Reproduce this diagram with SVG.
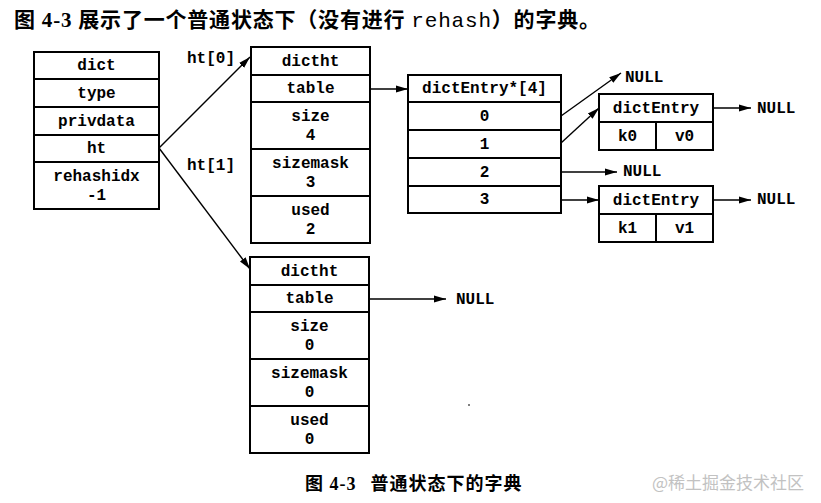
<svg xmlns="http://www.w3.org/2000/svg" width="821" height="503" viewBox="0 0 821 503">
<defs>
<marker id="ah" viewBox="0 0 12 10" refX="12" refY="5" markerWidth="12" markerHeight="10" markerUnits="userSpaceOnUse" orient="auto">
<path d="M0,1.5 L12,5 L0,8.5 Z" fill="#000"/>
</marker>
</defs>
<style>
.box{fill:#fff;stroke:#000;stroke-width:2}
.t{font-family:"Liberation Mono","Courier New",monospace;font-weight:bold;font-size:16px;text-anchor:middle;fill:#000}
.tl{font-family:"Liberation Mono","Courier New",monospace;font-weight:bold;font-size:16px;fill:#000}
.c{stroke:#000;stroke-width:1.4;fill:none;marker-end:url(#ah)}
.cap{font-family:"Liberation Serif","Noto Sans CJK SC",serif;font-weight:bold;fill:#000}
</style>
<rect width="821" height="503" fill="#fff"/>
<text class="cap" x="14" y="27" font-size="21" textLength="586" lengthAdjust="spacing">图 4-3 展示了一个普通状态下（没有进行 <tspan font-family="Liberation Mono, monospace" font-weight="normal">rehash</tspan>）的字典。</text>

<g id="dict">
<rect class="box" x="34" y="52" width="125" height="157"/>
<line class="box" x1="34" y1="79" x2="159" y2="79"/>
<line class="box" x1="34" y1="107" x2="159" y2="107"/>
<line class="box" x1="34" y1="135" x2="159" y2="135"/>
<line class="box" x1="34" y1="162" x2="159" y2="162"/>
<text class="t" x="96.5" y="70">dict</text>
<text class="t" x="96.5" y="98">type</text>
<text class="t" x="96.5" y="126">privdata</text>
<text class="t" x="96.5" y="153">ht</text>
<text class="t" x="96.5" y="181">rehashidx</text>
<text class="t" x="96.5" y="200">-1</text>
</g>

<g id="dictht0">
<rect class="box" x="251" y="47" width="119" height="196"/>
<line class="box" x1="251" y1="75" x2="370" y2="75"/>
<line class="box" x1="251" y1="102" x2="370" y2="102"/>
<line class="box" x1="251" y1="149" x2="370" y2="149"/>
<line class="box" x1="251" y1="196" x2="370" y2="196"/>
<text class="t" x="310.5" y="66">dictht</text>
<text class="t" x="310.5" y="93">table</text>
<text class="t" x="310.5" y="121">size</text>
<text class="t" x="310.5" y="140">4</text>
<text class="t" x="310.5" y="168">sizemask</text>
<text class="t" x="310.5" y="187">3</text>
<text class="t" x="310.5" y="215">used</text>
<text class="t" x="310.5" y="234">2</text>
</g>

<g id="dictht1">
<rect class="box" x="250" y="257" width="119" height="196"/>
<line class="box" x1="250" y1="285" x2="369" y2="285"/>
<line class="box" x1="250" y1="312" x2="369" y2="312"/>
<line class="box" x1="250" y1="359" x2="369" y2="359"/>
<line class="box" x1="250" y1="406" x2="369" y2="406"/>
<text class="t" x="309.5" y="276">dictht</text>
<text class="t" x="309.5" y="303">table</text>
<text class="t" x="309.5" y="331">size</text>
<text class="t" x="309.5" y="350">0</text>
<text class="t" x="309.5" y="378">sizemask</text>
<text class="t" x="309.5" y="397">0</text>
<text class="t" x="309.5" y="425">used</text>
<text class="t" x="309.5" y="444">0</text>
</g>

<g id="table0">
<rect class="box" x="408" y="75" width="153" height="138"/>
<line class="box" x1="408" y1="102" x2="561" y2="102"/>
<line class="box" x1="408" y1="130" x2="561" y2="130"/>
<line class="box" x1="408" y1="158" x2="561" y2="158"/>
<line class="box" x1="408" y1="186" x2="561" y2="186"/>
<text class="t" x="484.5" y="93">dictEntry*[4]</text>
<text class="t" x="484.5" y="121">0</text>
<text class="t" x="484.5" y="149">1</text>
<text class="t" x="484.5" y="177">2</text>
<text class="t" x="484.5" y="204">3</text>
</g>

<g id="entry0">
<rect class="box" x="599" y="94" width="114" height="56"/>
<line class="box" x1="599" y1="122" x2="713" y2="122"/>
<line class="box" x1="656" y1="122" x2="656" y2="150"/>
<text class="t" x="656" y="113">dictEntry</text>
<text class="t" x="627.5" y="141">k0</text>
<text class="t" x="684.5" y="141">v0</text>
</g>

<g id="entry1">
<rect class="box" x="599" y="186" width="114" height="56"/>
<line class="box" x1="599" y1="214" x2="713" y2="214"/>
<line class="box" x1="656" y1="214" x2="656" y2="242"/>
<text class="t" x="656" y="205">dictEntry</text>
<text class="t" x="627.5" y="233">k1</text>
<text class="t" x="684.5" y="233">v1</text>
</g>

<g id="labels">
<text class="tl" x="187" y="63">ht[0]</text>
<text class="tl" x="187" y="170">ht[1]</text>
<text class="tl" x="625" y="82">NULL</text>
<text class="tl" x="757" y="113">NULL</text>
<text class="tl" x="623" y="176">NULL</text>
<text class="tl" x="757" y="204">NULL</text>
<text class="tl" x="456" y="304">NULL</text>
</g>

<g id="connectors">
<line class="c" x1="159" y1="148" x2="250" y2="57"/>
<line class="c" x1="159" y1="148" x2="250" y2="269"/>
<line class="c" x1="370" y1="89" x2="408" y2="89"/>
<line class="c" x1="369" y1="299" x2="446" y2="299"/>
<line class="c" x1="561" y1="116" x2="621" y2="73"/>
<line class="c" x1="561" y1="143" x2="599" y2="108"/>
<line class="c" x1="713" y1="108" x2="751" y2="108"/>
<line class="c" x1="561" y1="172" x2="617" y2="172"/>
<line class="c" x1="561" y1="200" x2="599" y2="200"/>
<line class="c" x1="713" y1="200" x2="751" y2="200"/>
</g>

<text class="cap" x="305" y="490" font-size="18" letter-spacing="1">图 4-3<tspan dx="14">普通状态下的字典</tspan></text>
<text x="652" y="489" font-family="Noto Sans CJK SC, sans-serif" font-size="17" fill="#c2c2c2">@稀土掘金技术社区</text>
<circle cx="469" cy="405" r="1" fill="#555"/>
</svg>
